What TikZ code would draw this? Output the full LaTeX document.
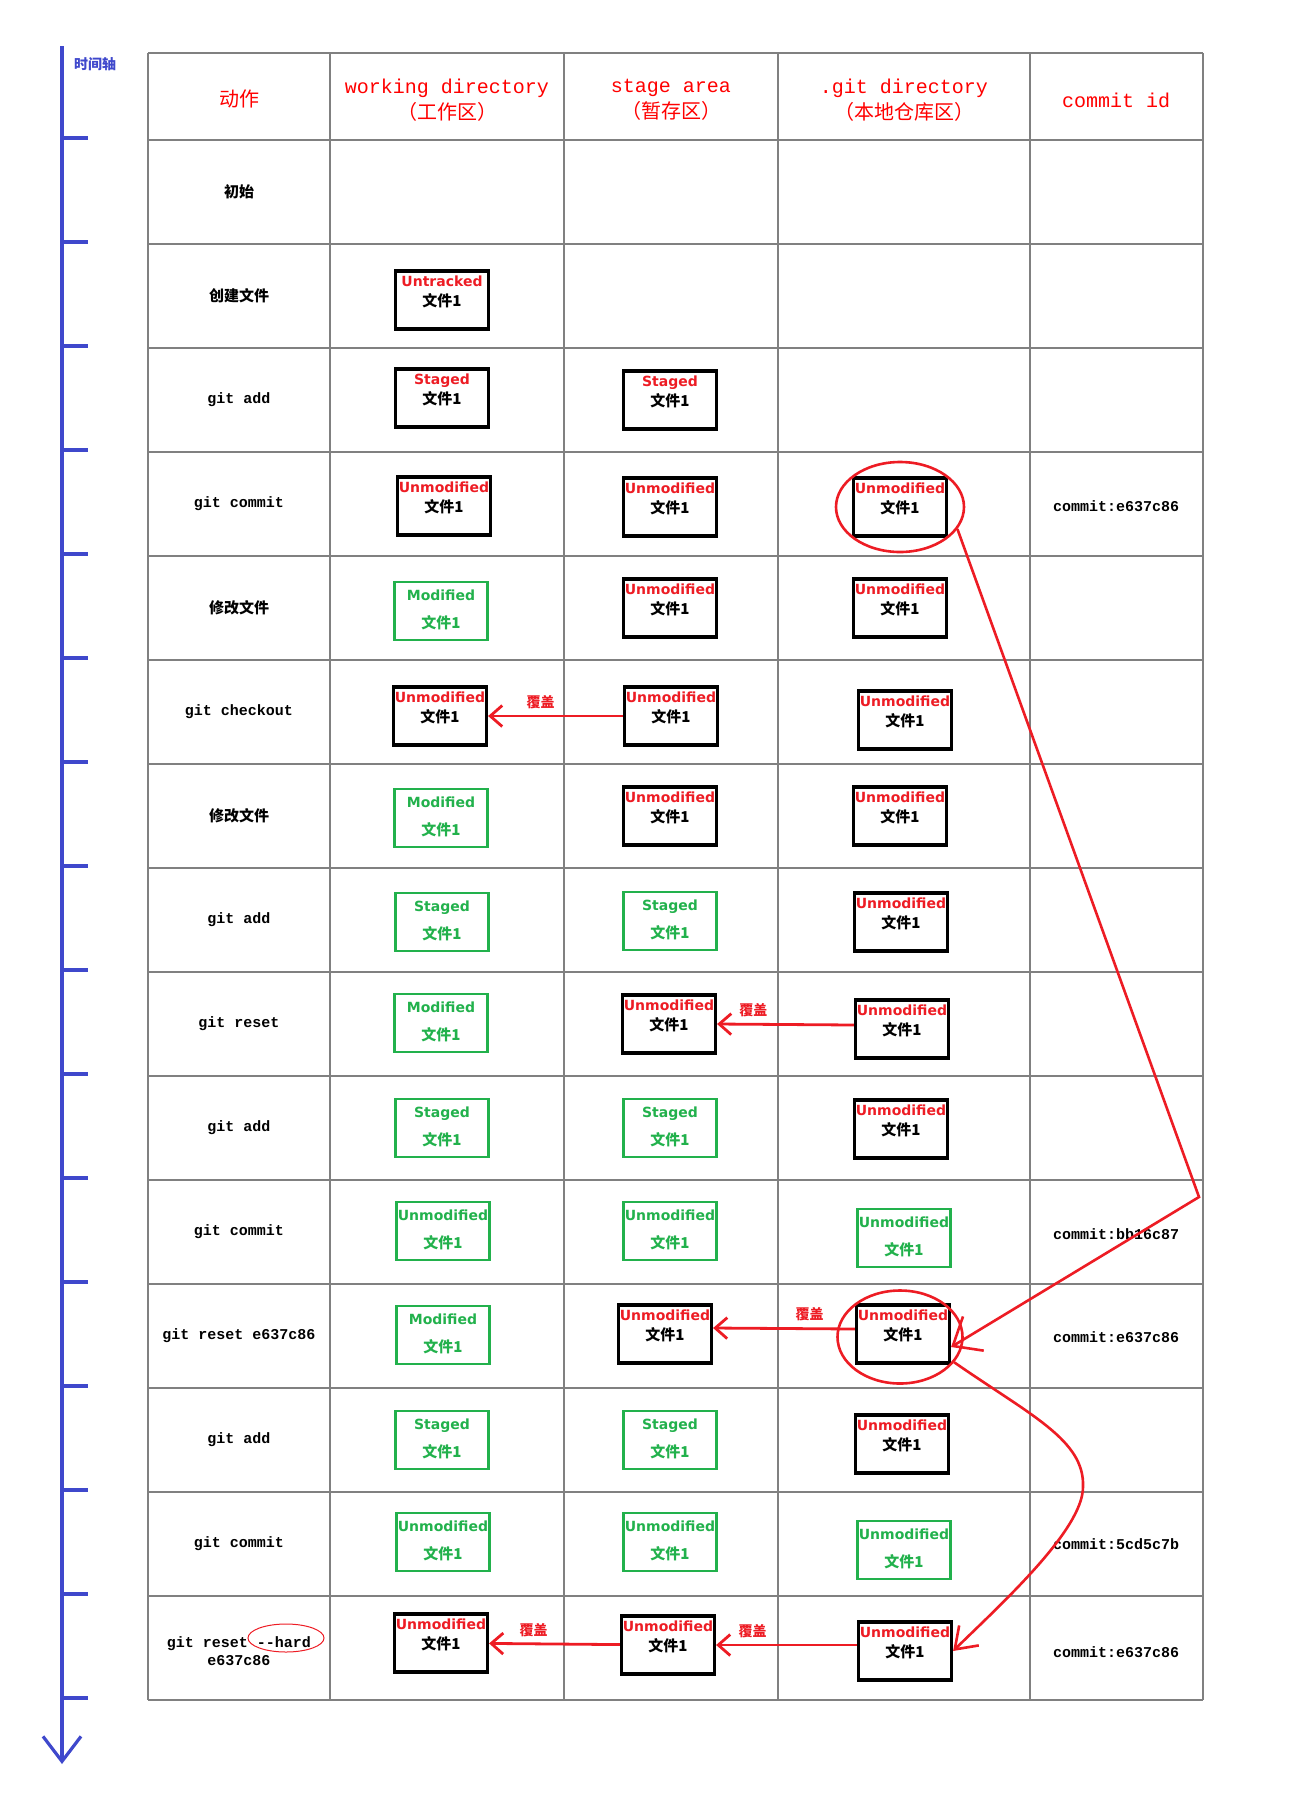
\documentclass[tikz,border=0pt]{standalone}
\usepackage{fontspec}
\usetikzlibrary{arrows.meta, shapes.geometric}
\newfontfamily\cjk{Noto Sans CJK SC}
\newfontfamily\mono{Liberation Mono}
\newfontfamily\tah{DejaVu Sans}
\definecolor{paintred}{RGB}{237,28,36}
\definecolor{paintgreen}{RGB}{34,177,76}
\definecolor{axisblue}{RGB}{63,72,204}
\definecolor{gridgray}{RGB}{128,128,128}

\begin{document}
\begin{tikzpicture}[x=1pt,y=-1pt,
 grid/.style={draw=gridgray,line width=2.4pt},
 axis/.style={draw=axisblue,line width=3.2pt},
 head/.style={text=red,font=\fontsize{20}{26}\selectfont,align=center},
 act/.style={font=\mono\bfseries\fontsize{15}{18}\selectfont,align=center},
 cact/.style={font=\cjk\bfseries\fontsize{15}{18}\selectfont},
 black box/.style={draw,line width=3.2pt,minimum width=93pt,minimum height=58pt,inner sep=0pt},
 green box/.style={draw=paintgreen,line width=2.8pt,minimum width=93pt,minimum height=58pt,inner sep=0pt},
 state/.style={font=\tah\bfseries\fontsize{14}{16}\selectfont,inner sep=0pt,text height=10pt,text depth=3pt},
 file/.style={font=\cjk\bfseries\fontsize{15}{18}\selectfont,inner sep=0pt},
 ring/.style={ellipse,draw=paintred,line width=2.6pt,inner sep=0pt},
 cover/.style={->,>={Straight Barb[length=12pt,width=21pt]},color=paintred,line width=2.8pt},
 cover label/.style={text=paintred,font=\cjk\bfseries\fontsize{14}{16}\selectfont,inner sep=2pt},
 jump/.style={->,color=paintred,line width=2.6pt}]
\useasboundingbox (0,0) rectangle (1312,1816);

\coordinate (axis top) at (62,46);
\coordinate (axis end) at (62,1764);
\draw[axis,->,>={Straight Barb[length=25pt,width=38pt]}] (axis top) -- (axis end);
\foreach \y in {138,242,346,450,554,658,762,866,970,1074,1178,1282,1386,1490,1594,1698}
  \draw[axis] (62,\y) -- (88,\y);
\node[font=\cjk\bfseries\fontsize{14}{16}\selectfont,text=axisblue,anchor=west,inner sep=0pt] (axis label) at (74,64) {时间轴};

\foreach \x in {148,330,564,778,1030,1203}
  \draw[grid] (\x,53) -- (\x,1700);
\foreach \y in {53,140,244,348,452,556,660,764,868,972,1076,1180,1284,1388,1492,1596,1700}
  \draw[grid] (148,\y) -- (1203,\y);

\node[head] (h1) at (239,99) {\cjk 动作};
\node[head] (h2) at (447,100) {\mono working directory\\\cjk （工作区）};
\node[head] (h3) at (671,100) {\mono stage area\\\cjk （暂存区）};
\node[head] (h4) at (904,100) {\mono .git directory\\\cjk （本地仓库区）};
\node[head] (h5) at (1116,100) {\mono commit id};

\foreach \s/\y/\t in {a1/192/初始, a2/296/创建文件, a5/608/修改文件, a7/816/修改文件}
  \node[cact] (\s) at (239,\y) {\t};
\foreach \s/\y/\t in {a3/400/git add, a4/504/git commit, a6/712/git checkout, a8/920/git add,
    a9/1024/git reset, a10/1128/git add, a11/1232/git commit, a12/1336/git reset e637c86,
    a13/1440/git add, a14/1544/git commit}
  \node[act] (\s) at (239,\y) {\t};
\node[act] (a15) at (239,1651) {git reset -{}-hard\\e637c86};
\node[ellipse,draw=paintred,line width=1pt,minimum width=76pt,minimum height=28pt,inner sep=0pt] (hard) at (286,1638) {};

\foreach \s/\y/\t in {c4/506/e637c86, c11/1234/bb16c87, c12/1337/e637c86, c14/1544/5cd5c7b, c15/1652/e637c86}
  \node[act] (\s) at (1116,\y) {commit:\t};

\foreach \s/\x/\y/\t in {w2/442/300/Untracked, w3/442/398/Staged, s3/670/400/Staged,
    w4/444/506/Unmodified, s4/670/507/Unmodified, g4/900/507/Unmodified,
    s5/670/608/Unmodified, g5/900/608/Unmodified,
    w6/440/716/Unmodified, s6/671/716/Unmodified, g6/905/720/Unmodified,
    s7/670/816/Unmodified, g7/900/816/Unmodified, g8/901/922/Unmodified,
    s9/669/1024/Unmodified, g9/902/1029/Unmodified, g10/901/1129/Unmodified,
    s12/665/1334/Unmodified, g12/903/1334/Unmodified, g13/902/1444/Unmodified,
    w15/441/1643/Unmodified, s15/668/1645/Unmodified, g15/905/1651/Unmodified}{
  \node[black box] (\s) at (\x,\y) {};
  \node[state,text=paintred] (\s-st) at ([yshift=-14pt]\s.north) {\t};
  \node[file] (\s-f) at ([yshift=-31pt]\s.north) {文件1};}

\foreach \s/\x/\y/\t in {w5/441/611/Modified, w7/441/818/Modified, w8/442/922/Staged, s8/670/921/Staged,
    w9/441/1023/Modified, w10/442/1128/Staged, s10/670/1128/Staged,
    w11/443/1231/Unmodified, s11/670/1231/Unmodified, g11/904/1238/Unmodified,
    w12/443/1335/Modified, w13/442/1440/Staged, s13/670/1440/Staged,
    w14/443/1542/Unmodified, s14/670/1542/Unmodified, g14/904/1550/Unmodified}{
  \node[green box] (\s) at (\x,\y) {};
  \node[state,text=paintgreen] (\s-st) at ([yshift=-16pt]\s.north) {\t};
  \node[file,text=paintgreen] (\s-f) at ([yshift=-42pt]\s.north) {文件1};}

\node[ring,minimum width=128pt,minimum height=90pt] (r4) at (g4) {};
\node[ring,minimum width=125pt,minimum height=93pt] (r12) at (900,1337) {};

\path[cover]
  (s6) edge node[cover label,above=4pt,pos=0.61]{覆盖} (w6)
  ([yshift=4pt]g9.west) edge node[cover label,above=4pt,pos=0.735]{覆盖} (s9.east)
  ([yshift=5pt]g12.west) edge node[cover label,above=4pt,pos=0.32]{覆盖} ([yshift=6pt]s12.east)
  (s15) edge node[cover label,above=4pt,pos=0.66]{覆盖} (w15)
  ([yshift=6pt]g15.west) edge node[cover label,above=4pt,pos=0.74]{覆盖} (s15.east);

\coordinate (bend) at (1199,1197);
\coordinate (turn) at (1083,1487);
\draw[jump,>={Straight Barb[length=24pt,width=40pt]}] (r4.-21) -- (bend) -- ([yshift=-13pt]g12.east);
\draw[jump,>={Straight Barb[length=20pt,width=28pt]}] (r12.-25) .. controls (1030,1415) and (1085,1440) .. (turn)
  .. controls (1083,1530) and (1000,1605) .. (g15.east);
\end{tikzpicture}
\end{document}
